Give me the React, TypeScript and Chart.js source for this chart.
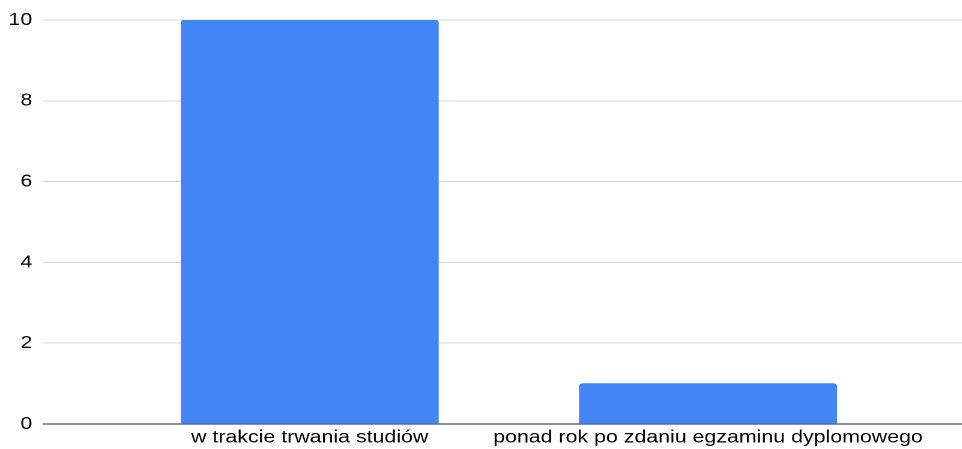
import React, { useEffect, useRef } from "react";
import { Chart, registerables } from "chart.js";

Chart.register(...registerables);

const categories: string[] = ["w trakcie trwania studiów", "ponad rok po zdaniu egzaminu dyplomowego"];
const values: number[] = [10, 1];
const yTickValues: number[] = [0, 2, 4, 6, 8, 10];

const STRETCH = 1.2;
const W = 962;
const H = 449;

export default function App() {
  const ref = useRef<HTMLCanvasElement | null>(null);

  useEffect(() => {
    if (!ref.current) return;
    const font = { family: "'Liberation Sans', Arial, sans-serif", size: 17.8 };
    const chart = new Chart(ref.current, {
      type: "bar",
      data: {
        datasets: [
          {
            data: values.map((v, i) => ({ x: i, y: v })),
            backgroundColor: "#4285F4",
            borderRadius: { topLeft: 3, topRight: 3, bottomLeft: 0, bottomRight: 0 },
            borderSkipped: "bottom",
            barThickness: 257 / STRETCH,
          },
        ],
      },
      options: {
        animation: false,
        responsive: true,
        maintainAspectRatio: false,
        devicePixelRatio: 2,
        layout: { padding: { top: 20, right: 0, bottom: 0, left: 0 } },
        plugins: { legend: { display: false }, tooltip: { enabled: false } },
        scales: {
          x: {
            type: "linear",
            offset: false,
            bounds: "data",
            min: -0.6696,
            max: 1.6394,
            grid: { display: false, drawTicks: false, offset: false },
            border: { display: true, color: "#222222", width: 1 },
            afterBuildTicks: (axis: any) => {
              axis.ticks = categories.map((_, i) => ({ value: i }));
            },
            afterFit: (axis: any) => {
              axis.height = 25;
            },
            ticks: {
              autoSkip: false,
              maxRotation: 0,
              minRotation: 0,
              padding: 3,
              color: "#000000",
              font,
              callback: (v: any) => categories[Number(v)] ?? "",
            },
          },
          y: {
            min: 0,
            max: 10,
            afterBuildTicks: (axis: any) => {
              axis.ticks = yTickValues.map((v) => ({ value: v }));
            },
            afterFit: (axis: any) => {
              axis.width = 43 / STRETCH;
            },
            grid: {
              color: (ctx: any) => (ctx.tick && ctx.tick.value === 0 ? "#222222" : "#d6d6d6"),
              drawTicks: false,
              lineWidth: 1,
            },
            border: { display: false },
            ticks: {
              padding: 9,
              color: "#000000",
              font,
            },
          },
        },
      },
    });
    return () => chart.destroy();
  }, []);

  return (
    <div style={{ position: "fixed", left: 0, top: 0, width: W, height: H, overflow: "hidden", background: "#fff" }}>
      <div
        style={{
          width: W / STRETCH,
          height: H,
          transform: `scaleX(${STRETCH})`,
          transformOrigin: "0 0",
          position: "relative",
        }}
      >
        <canvas ref={ref} />
      </div>
    </div>
  );
}
